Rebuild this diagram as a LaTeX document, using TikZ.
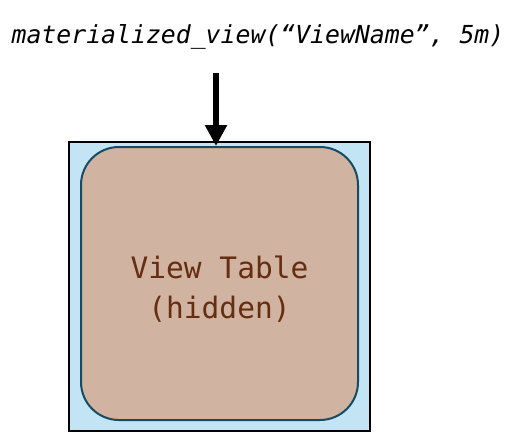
\documentclass[tikz,border=0pt]{standalone}
\usepackage{fontspec}
\newfontfamily\codefont{DejaVu Sans Mono}
\usetikzlibrary{arrows.meta}
\definecolor{outerfill}{HTML}{C2E4F5}
\definecolor{innerfill}{HTML}{D0B3A0}
\definecolor{innerline}{HTML}{174A63}
\definecolor{textbrown}{HTML}{652D12}
\tikzset{
  outerbox/.style={draw=black, line width=2pt, fill=outerfill, minimum width=301pt, minimum height=289pt, inner sep=0pt},
  innerbox/.style={draw=innerline, line width=2pt, fill=innerfill, rounded corners=38pt, minimum width=277pt, minimum height=273pt, inner sep=0pt, align=center, text=textbrown, font=\codefont\fontsize{29.5}{40}\selectfont},
  codelabel/.style={font=\codefont\itshape\fontsize{24.8}{28}\selectfont, inner sep=0pt},
  bigarrow/.style={line width=6pt, -{Triangle[width=21pt,length=21pt]}}
}
\begin{document}
\begin{tikzpicture}[x=1pt,y=-1pt]
\useasboundingbox (0,0) rectangle (508,441);
\node[codelabel] (label) at (258,37) {materialized\_view(“ViewName”, 5m)};
\node[outerbox] (outer) at (219.5,286.5) {};
\node[innerbox] (inner) at (219.5,283.5) {};
\node[text=textbrown, font=\codefont\fontsize{29.5}{40}\selectfont, align=center, inner sep=0pt] (innertext) at (219.5,289) {View Table\\(hidden)};
\coordinate (start) at (216,73);
\draw[bigarrow] (start) -- (start |- inner.north);
\end{tikzpicture}
\end{document}
